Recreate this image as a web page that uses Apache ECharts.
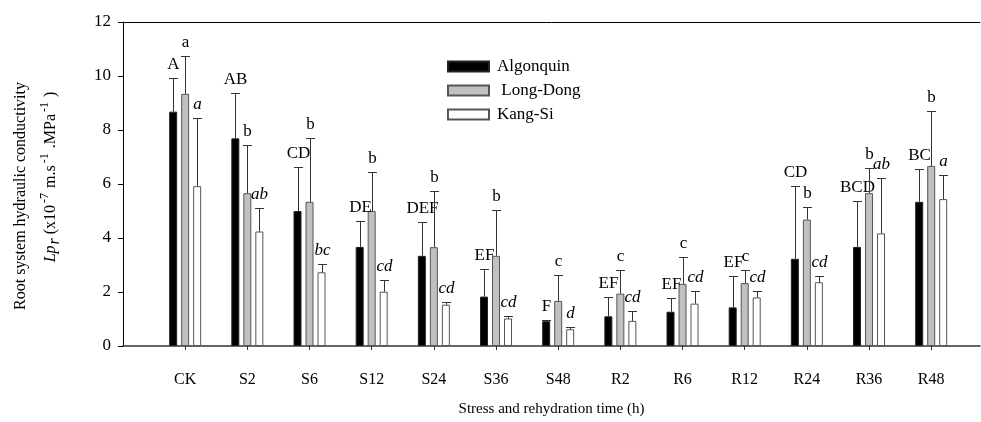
<!DOCTYPE html>
<html>
<head>
<meta charset="utf-8">
<script src="https://cdn.jsdelivr.net/npm/echarts@6/dist/echarts.min.js"></script>
<style>html,body{margin:0;padding:0;background:#fff}#c{width:981px;height:422px}</style>
</head>
<body>
<div id="c"></div>
<script>
const categories = ['CK','S2','S6','S12','S24','S36','S48','R2','R6','R12','R24','R36','R48'];
const yTicks = [0, 2, 4, 6, 8, 10, 12];
const algonquin = [8.68,7.69,5.00,3.67,3.34,1.83,0.92,1.10,1.27,1.43,3.23,3.67,5.34];
const algonquinSD = [1.25,1.68,1.63,0.95,1.25,1.03,0.06,0.70,0.52,1.16,2.71,1.70,1.23];
const algonquinLetters = ['A','AB','CD','DE','DEF','EF','F','EF','EF','EF','CD','BCD','BC'];
const longDong = [9.34,5.66,5.34,5.00,3.66,3.34,1.67,1.94,2.30,2.33,4.68,5.66,6.67];
const longDongSD = [1.40,1.78,2.35,1.43,2.07,1.70,0.96,0.88,1.00,0.47,0.45,0.94,2.04];
const longDongLetters = ['a','b','b','b','b','b','c','c','c','c','b','b','b'];
const kangSi = [5.92,4.24,2.73,2.01,1.53,1.02,0.62,0.93,1.57,1.80,2.36,4.17,5.44];
const kangSiSD = [2.52,0.87,0.29,0.45,0.09,0.08,0.07,0.36,0.47,0.22,0.23,2.04,0.89];
const kangSiLetters = ['a','ab','bc','cd','cd','cd','d','cd','cd','cd','cd','ab','a'];
const seriesNames = ['Algonquin', ' Long-Dong', 'Kang-Si'];

const FONT = '"Liberation Serif", "DejaVu Serif", serif';
const chart = echarts.init(document.getElementById('c'));

function barData(vals) { return vals.map((v, i) => [i, v]); }
function errData(vals, sd, letters) { return vals.map((v, i) => [i, v, sd[i], letters[i]]); }

function errSeries(vals, sd, letters, offset, italic) {
  return {
    type: 'custom',
    xAxisIndex: 0, yAxisIndex: 0,
    data: errData(vals, sd, letters),
    z: 5,
    silent: true,
    renderItem: function (params, api) {
      const i = api.value(0), m = api.value(1), s = api.value(2);
      const letter = letters[params.dataIndex];
      const pTop = api.coord([i, m + s]);
      const pBase = api.coord([i, m]);
      const x = Math.round(pTop[0] + offset) + 0.5;
      const top = Math.round(pTop[1]) + 0.5;
      const st = { stroke: '#333', lineWidth: 1 };
      return {
        type: 'group',
        children: [
          { type: 'line', shape: { x1: x, y1: pBase[1], x2: x, y2: top }, style: st },
          { type: 'line', shape: { x1: x - 4.5, y1: top, x2: x + 4.5, y2: top }, style: st },
          { type: 'text', style: { text: letter, x: x, y: top - 5, align: 'center', verticalAlign: 'bottom',
              fontFamily: FONT, fontSize: 17, fontStyle: italic ? 'italic' : 'normal', fill: '#000' } }
        ]
      };
    }
  };
}

const option = {
  animation: false,
  backgroundColor: '#fff',
  grid: { left: 123, right: 1, top: 22, bottom: 75 },
  legend: {
    orient: 'vertical', left: 442, top: 53,
    itemWidth: 41, itemHeight: 10, itemGap: 7,
    textStyle: { fontFamily: FONT, fontSize: 17, color: '#000', padding: [0, 0, 0, 3] },
    data: seriesNames.map(n => ({ name: n, icon: 'rect' })),
    selectedMode: false
  },
  xAxis: [{
    type: 'value', min: -1, max: 12.785, interval: 1,
    splitLine: { show: false },
    axisLine: { show: true, onZero: false, lineStyle: { color: '#333', width: 1.5 } },
    axisTick: { show: true, inside: false, length: 4, lineStyle: { color: '#333' }, customValues: categories.map((c, i) => i) },
    axisLabel: { show: true, margin: 26, fontFamily: FONT, fontSize: 16, color: '#000',
      customValues: categories.map((c, i) => i),
      formatter: v => categories[Math.round(v)] || '' },
    name: 'Stress and rehydration time (h)', nameLocation: 'middle', nameGap: 56,
    nameTextStyle: { fontFamily: FONT, fontSize: 15, color: '#000' }
  }, {
    type: 'value', position: 'top', min: -1, max: 12.785,
    splitLine: { show: false },
    axisLine: { show: true, onZero: false, lineStyle: { color: '#000', width: 1 } },
    axisTick: { show: false }, axisLabel: { show: false }
  }],
  yAxis: {
    type: 'value', min: 0, max: 12, interval: 2,
    splitLine: { show: false },
    axisLine: { show: true, onZero: false, lineStyle: { color: '#000', width: 1 } },
    axisTick: { show: true, inside: false, length: 5, lineStyle: { color: '#000' } },
    axisLabel: { margin: 12, fontFamily: FONT, fontSize: 17, color: '#000',
      customValues: yTicks }
  },
  series: [
    { name: seriesNames[0], type: 'bar', data: barData(algonquin), barWidth: 8, barGap: '50%',
      itemStyle: { color: '#000', borderColor: '#222', borderWidth: 1 } },
    { name: seriesNames[1], type: 'bar', data: barData(longDong), barWidth: 8, barGap: '50%',
      itemStyle: { color: '#c0c0c0', borderColor: '#555', borderWidth: 1 } },
    { name: seriesNames[2], type: 'bar', data: barData(kangSi), barWidth: 8, barGap: '50%',
      itemStyle: { color: '#fff', borderColor: '#555', borderWidth: 1 } },
    errSeries(algonquin, algonquinSD, algonquinLetters, -12, false),
    errSeries(longDong, longDongSD, longDongLetters, 0, false),
    errSeries(kangSi, kangSiSD, kangSiLetters, 12, true)
  ],
  graphic: [
    { type: 'text', x: 21, y: 196, rotation: Math.PI / 2,
      style: { text: 'Root system hydraulic conductivity', fontFamily: FONT, fontSize: 16, fill: '#000',
        align: 'center', verticalAlign: 'middle' } },
    { type: 'text', x: 51, y: 177, rotation: Math.PI / 2,
      style: {
        text: '{i|Lp}{sub|r}{n| (x10}{sup|-7}{n| m.s}{sup|-1}{n| .MPa}{sup|-1}{n| )}',
        fontFamily: FONT, fontSize: 16, fill: '#000', align: 'center', verticalAlign: 'middle',
        rich: {
          n: { fontFamily: FONT, fontSize: 16, lineHeight: 24, verticalAlign: 'middle' },
          i: { fontFamily: FONT, fontSize: 16, fontStyle: 'italic', lineHeight: 24, verticalAlign: 'middle' },
          sub: { fontFamily: FONT, fontSize: 16, fontStyle: 'italic', lineHeight: 24, verticalAlign: 'bottom', padding: [6, 0, 0, 1] },
          sup: { fontFamily: FONT, fontSize: 12, lineHeight: 24, verticalAlign: 'top', padding: [0, 1, 0, 2] }
        }
      } }
  ]
};
chart.setOption(option);
</script>
</body>
</html>
